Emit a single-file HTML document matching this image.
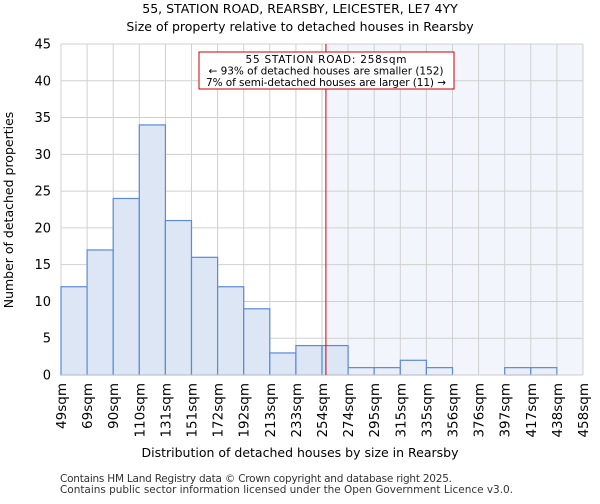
<!DOCTYPE html>
<html><head><meta charset="utf-8"><style>
body{margin:0;background:#fff;font-family:"DejaVu Sans","Liberation Sans",sans-serif;}
</style></head><body>
<svg width="600" height="500" xmlns="http://www.w3.org/2000/svg" font-family="DejaVu Sans, Liberation Sans, sans-serif">
<text x="300" y="13" text-anchor="middle" font-size="12.5">55, STATION ROAD, REARSBY, LEICESTER, LE7 4YY</text>
<text x="300" y="31" text-anchor="middle" font-size="12.5">Size of property relative to detached houses in Rearsby</text>
<g id="plot"></g>
<text x="300" y="457" text-anchor="middle" font-size="12.5">Distribution of detached houses by size in Rearsby</text>
<text transform="translate(13,210) rotate(-90)" text-anchor="middle" font-size="12.5">Number of detached properties</text>
<text x="60" y="482" font-size="10.5" fill="#333" textLength="392">Contains HM Land Registry data © Crown copyright and database right 2025.</text>
<text x="60" y="493" font-size="10.5" fill="#333" textLength="453">Contains public sector information licensed under the Open Government Licence v3.0.</text>
</svg>
<script>
const binLabels=["49sqm","69sqm","90sqm","110sqm","131sqm","151sqm","172sqm","192sqm","213sqm","233sqm","254sqm","274sqm","295sqm","315sqm","335sqm","356sqm","376sqm","397sqm","417sqm","438sqm","458sqm"];
const counts=[12,17,24,34,21,16,12,9,3,4,4,1,1,2,1,0,0,1,1,0];
const yTicks=[0,5,10,15,20,25,30,35,40,45];
const markerBin=10.15;
const NS="http://www.w3.org/2000/svg";
const L=61,R=583,T=44,B=375,yMax=45;
const bw=(R-L)/counts.length;
const xs=i=>L+i*bw, ys=v=>B-(v/yMax)*(B-T);
const g=document.getElementById('plot');
function mk(t,a){const e=document.createElementNS(NS,t);for(const k in a)e.setAttribute(k,a[k]);g.appendChild(e);return e;}
const mx=xs(markerBin);
let e=mk('rect',{x:mx,y:T,width:R-mx,height:B-T,fill:'#f2f5fc'});


yTicks.forEach(v=>{
 let l=mk('line',{x1:L,x2:R,y1:ys(v),y2:ys(v),stroke:'#d0d0d0','stroke-width':1});
 
 
 let t=mk('text',{x:L-10,y:ys(v)+4.5,'text-anchor':'end','font-size':13});
 t.textContent=v;
 
 
});
binLabels.forEach((s,i)=>{
 let l=mk('line',{x1:xs(i),x2:xs(i),y1:T,y2:B,stroke:'#d0d0d0','stroke-width':1});
 
 
 let t=mk('text',{transform:`translate(${xs(i)+5},${B+8}) rotate(-90)`,'text-anchor':'end','font-size':13.5});
 t.textContent=s;
 
 
});
counts.forEach((v,i)=>{
 if(v<=0)return;
 const light=i>=Math.floor(markerBin)+1;
 let r=mk('rect',{x:xs(i),y:ys(v),width:bw,height:B-ys(v),fill:light?'#e9eef8':'#dce6f4',stroke:'#5b8ad6','stroke-width':1.2});
 
 
});
let ax=mk('line',{x1:L,x2:R,y1:B,y2:B,stroke:'#ccc'});


let m=mk('line',{x1:mx,x2:mx,y1:T,y2:B,stroke:'#cc0000','stroke-width':1});


let bx=mk('rect',{x:199,y:52,width:255,height:37,fill:'#fff',stroke:'#cc0000','stroke-width':1});


["55 STATION ROAD: 258sqm","← 93% of detached houses are smaller (152)","7% of semi-detached houses are larger (11) →"].forEach((s,i)=>{
 let t=mk('text',{x:326,y:63+i*11.5,'text-anchor':'middle','font-size':10.5,textLength:[161,235,240][i]});
 t.textContent=s;
 
 
});
</script>
</body></html>
